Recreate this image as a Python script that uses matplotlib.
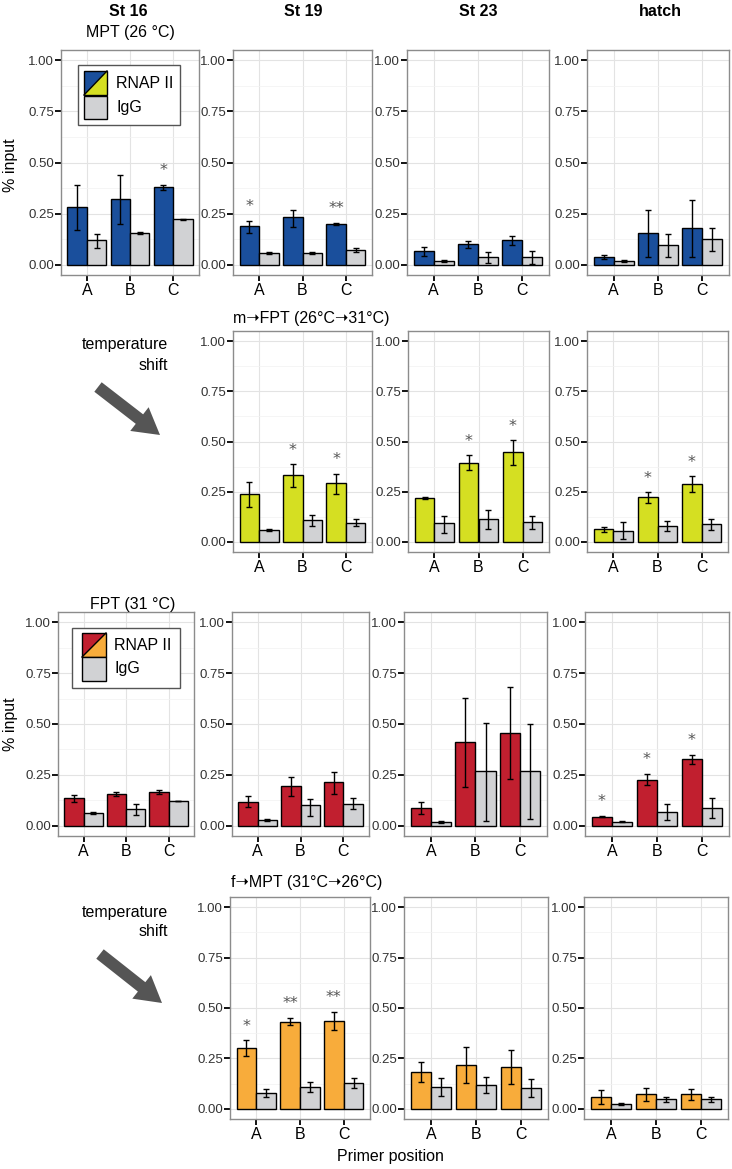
import matplotlib
matplotlib.use("Agg")
import matplotlib.pyplot as plt
from matplotlib.patches import Polygon, Rectangle, FancyArrow
import numpy as np

W, H = 732, 1169
plt.rcParams["font.family"] = ["Liberation Sans", "DejaVu Sans"]

positions = ["A", "B", "C"]
stages = ["St 16", "St 19", "St 23", "hatch"]

# MPT (26 °C), all four stages
mpt_rnap = [[0.28, 0.32, 0.38], [0.19, 0.232, 0.20], [0.065, 0.10, 0.12], [0.039, 0.157, 0.182]]
mpt_rnap_lo = [[0.171, 0.20, 0.365], [0.157, 0.185, 0.196], [0.044, 0.083, 0.098], [0.028, 0.039, 0.039]]
mpt_rnap_hi = [[0.388, 0.44, 0.39], [0.214, 0.27, 0.204], [0.088, 0.118, 0.14], [0.05, 0.268, 0.319]]
mpt_igg = [[0.119, 0.153, 0.222], [0.058, 0.058, 0.071], [0.018, 0.036, 0.036], [0.018, 0.095, 0.124]]
mpt_igg_lo = [[0.082, 0.148, 0.219], [0.052, 0.054, 0.062], [0.015, 0.01, 0.005], [0.015, 0.038, 0.065]]
mpt_igg_hi = [[0.15, 0.158, 0.225], [0.064, 0.062, 0.08], [0.021, 0.06, 0.068], [0.021, 0.149, 0.178]]
mpt_stars = [["", "", "*"], ["*", "", "**"], ["", "", ""], ["", "", ""]]

# m->FPT (26°C->31°C), St 19 / St 23 / hatch
mfpt_rnap = [[0.237, 0.331, 0.291], [0.221, 0.394, 0.446], [0.062, 0.223, 0.29]]
mfpt_rnap_lo = [[0.176, 0.274, 0.241], [0.216, 0.358, 0.381], [0.05, 0.196, 0.251]]
mfpt_rnap_hi = [[0.296, 0.386, 0.339], [0.226, 0.432, 0.507], [0.073, 0.248, 0.326]]
mfpt_igg = [[0.06, 0.109, 0.095], [0.092, 0.112, 0.10], [0.057, 0.078, 0.087]]
mfpt_igg_lo = [[0.056, 0.08, 0.077], [0.045, 0.064, 0.066], [0.013, 0.053, 0.06]]
mfpt_igg_hi = [[0.064, 0.134, 0.112], [0.127, 0.157, 0.129], [0.098, 0.105, 0.113]]
mfpt_stars = [["", "*", "*"], ["", "*", "*"], ["", "*", "*"]]

# FPT (31 °C), all four stages
fpt_rnap = [[0.137, 0.155, 0.166], [0.117, 0.194, 0.214], [0.088, 0.41, 0.454], [0.044, 0.227, 0.327]]
fpt_rnap_lo = [[0.119, 0.145, 0.155], [0.09, 0.147, 0.158], [0.057, 0.19, 0.228], [0.041, 0.199, 0.304]]
fpt_rnap_hi = [[0.152, 0.165, 0.176], [0.144, 0.241, 0.266], [0.119, 0.628, 0.68], [0.047, 0.255, 0.35]]
fpt_igg = [[0.065, 0.082, 0.121], [0.029, 0.10, 0.108], [0.02, 0.267, 0.267], [0.021, 0.069, 0.088]]
fpt_igg_lo = [[0.06, 0.052, 0.12], [0.026, 0.05, 0.082], [0.015, 0.026, 0.033], [0.017, 0.031, 0.039]]
fpt_igg_hi = [[0.07, 0.109, 0.122], [0.032, 0.132, 0.135], [0.025, 0.506, 0.50], [0.025, 0.105, 0.137]]
fpt_stars = [["", "", ""], ["", "", ""], ["", "", ""], ["*", "*", "*"]]

# f->MPT (31°C->26°C), St 19 / St 23 / hatch
fmpt_rnap = [[0.303, 0.433, 0.437], [0.185, 0.216, 0.207], [0.061, 0.074, 0.072]]
fmpt_rnap_lo = [[0.264, 0.417, 0.392], [0.134, 0.126, 0.123], [0.026, 0.041, 0.046]]
fmpt_rnap_hi = [[0.339, 0.45, 0.481], [0.234, 0.305, 0.29], [0.095, 0.105, 0.10]]
fmpt_igg = [[0.081, 0.11, 0.128], [0.11, 0.118, 0.103], [0.023, 0.048, 0.049]]
fmpt_igg_lo = [[0.061, 0.082, 0.104], [0.064, 0.077, 0.057], [0.019, 0.036, 0.036]]
fmpt_igg_hi = [[0.099, 0.135, 0.152], [0.154, 0.159, 0.148], [0.027, 0.057, 0.059]]
fmpt_stars = [["*", "**", "**"], ["", "", ""], ["", "", ""]]

BLUE = "#1a4f9c"
YELLOW = "#d5df22"
RED = "#c11f2f"
ORANGE = "#f8ac3b"
GRAY = "#d1d2d4"


def draw_panel(fig, box, rnap, rlo, rhi, igg, ilo, ihi, stars, color):
    left, top, right, bottom = box
    ax = fig.add_axes([left / W, 1 - bottom / H, (right - left) / W, (bottom - top) / H])
    x = np.arange(1, len(positions) + 1)
    w = 0.45
    rnap, rlo, rhi = np.array(rnap), np.array(rlo), np.array(rhi)
    igg, ilo, ihi = np.array(igg), np.array(ilo), np.array(ihi)
    ax.bar(x - w / 2, rnap, w, color=color, edgecolor="black", linewidth=1, zorder=3)
    ax.bar(x + w / 2, igg, w, color=GRAY, edgecolor="black", linewidth=1, zorder=3)
    ax.errorbar(x - w / 2, rnap, yerr=[rnap - rlo, rhi - rnap], fmt="none",
                ecolor="black", elinewidth=1, capsize=2.2, capthick=1, zorder=4)
    ax.errorbar(x + w / 2, igg, yerr=[igg - ilo, ihi - igg], fmt="none",
                ecolor="black", elinewidth=1, capsize=2.2, capthick=1, zorder=4)
    for xi, hi, s in zip(x - w / 2, rhi, stars):
        if s:
            ax.text(xi, hi + 0.07, s, ha="center", va="center", fontsize=11.5,
                    color="#555555", family="DejaVu Sans")
    ax.set_xlim(0.4, 3.6)
    ax.set_ylim(-0.05, 1.05)
    ax.set_xticks(x)
    ax.set_xticklabels(positions)
    ax.set_yticks([0, 0.25, 0.5, 0.75, 1.0])
    ax.set_yticklabels(["0.00", "0.25", "0.50", "0.75", "1.00"])
    ax.set_yticks([0.125, 0.375, 0.625, 0.875], minor=True)
    ax.grid(True, which="major", color="#e3e3e3", linewidth=0.8, zorder=0)
    ax.grid(True, which="minor", axis="y", color="#f2f2f2", linewidth=0.5, zorder=0)
    ax.set_axisbelow(True)
    for sp in ax.spines.values():
        sp.set_color("#8c8c8c")
        sp.set_linewidth(1)
    ax.tick_params(axis="y", which="major", length=4, width=1.3, color="black",
                   labelsize=9.5, labelcolor="#333333", pad=1)
    ax.tick_params(axis="y", which="minor", length=0)
    ax.tick_params(axis="x", length=4, width=1.3, color="black",
                   labelsize=11.5, labelcolor="black", pad=2)
    return ax


fig = plt.figure(figsize=(W / 100, H / 100), dpi=100)

row1 = [(61, 50, 199, 275), (233, 50, 372, 275), (407, 50, 549, 275), (587, 50, 729, 275)]
row2 = [None, (233, 331, 372, 552), (408, 331, 549, 552), (587, 331, 728, 552)]
row3 = [(58, 612, 194, 836), (232, 612, 369, 836), (404, 612, 547, 836), (585, 612, 729, 836)]
row4 = [None, (230, 897, 370, 1119), (404, 897, 548, 1119), (584, 897, 728, 1119)]

for i, box in enumerate(row1):
    draw_panel(fig, box, mpt_rnap[i], mpt_rnap_lo[i], mpt_rnap_hi[i],
               mpt_igg[i], mpt_igg_lo[i], mpt_igg_hi[i], mpt_stars[i], BLUE)
for i, box in enumerate(row2[1:]):
    draw_panel(fig, box, mfpt_rnap[i], mfpt_rnap_lo[i], mfpt_rnap_hi[i],
               mfpt_igg[i], mfpt_igg_lo[i], mfpt_igg_hi[i], mfpt_stars[i], YELLOW)
for i, box in enumerate(row3):
    draw_panel(fig, box, fpt_rnap[i], fpt_rnap_lo[i], fpt_rnap_hi[i],
               fpt_igg[i], fpt_igg_lo[i], fpt_igg_hi[i], fpt_stars[i], RED)
for i, box in enumerate(row4[1:]):
    draw_panel(fig, box, fmpt_rnap[i], fmpt_rnap_lo[i], fmpt_rnap_hi[i],
               fmpt_igg[i], fmpt_igg_lo[i], fmpt_igg_hi[i], fmpt_stars[i], ORANGE)

# overlay in pixel coordinates for titles, legends and arrows
ov = fig.add_axes([0, 0, 1, 1])
ov.set_xlim(0, W)
ov.set_ylim(H, 0)
ov.axis("off")
ov.patch.set_visible(False)

col_x = [128, 303, 478, 660]
for cx, st in zip(col_x, stages):
    ov.text(cx, 11, st, ha="center", va="center", fontsize=11.5, fontweight="bold")

ov.text(130, 33, "MPT (26 °C)", ha="center", va="center", fontsize=11.5)
ov.text(311, 318, "m\u279dFPT (26°C\u279d31°C)", ha="center", va="center", fontsize=11.5)
ov.text(133, 604, "FPT (31 °C)", ha="center", va="center", fontsize=11.5)
ov.text(307, 883, "f\u279dMPT (31°C\u279d26°C)", ha="center", va="center", fontsize=11.5)

for yc in (165, 724):
    ov.text(10, yc, "% input", ha="center", va="center", rotation=90, fontsize=11.5)

ov.text(390, 1157, "Primer position", ha="center", va="center", fontsize=11.5)

for y1 in (345, 912):
    ov.text(168, y1, "temperature", ha="right", va="center", fontsize=11.5)
    ov.text(168, y1 + 20, "shift", ha="right", va="center", fontsize=11.5)

for (x0, y0, x1, y1) in [(98, 387, 160, 435), (100, 954, 162, 1003)]:
    ov.add_patch(FancyArrow(x0, y0, x1 - x0, y1 - y0, width=12, head_width=30,
                            head_length=26, length_includes_head=True,
                            color="#555555", linewidth=0))


def draw_legend(box, key_l, key_r, k1, k2, tx, c_main, c_alt):
    bl, bt, br, bb = box
    ov.add_patch(Rectangle((bl, bt), br - bl, bb - bt, facecolor="white",
                           edgecolor="#555555", linewidth=1, zorder=5))
    t1, b1 = k1
    ov.add_patch(Polygon([(key_l, t1), (key_r, t1), (key_l, b1)], closed=True,
                         facecolor=c_main, edgecolor="none", zorder=6))
    ov.add_patch(Polygon([(key_r, t1), (key_r, b1), (key_l, b1)], closed=True,
                         facecolor=c_alt, edgecolor="none", zorder=6))
    ov.plot([key_l, key_r], [b1, t1], color="black", linewidth=1, zorder=7)
    ov.add_patch(Rectangle((key_l, t1), key_r - key_l, b1 - t1, facecolor="none",
                           edgecolor="black", linewidth=1, zorder=7))
    t2, b2 = k2
    ov.add_patch(Rectangle((key_l, t2), key_r - key_l, b2 - t2, facecolor=GRAY,
                           edgecolor="black", linewidth=1, zorder=7))
    ov.text(tx, (t1 + b1) / 2, "RNAP II", ha="left", va="center", fontsize=11.5, zorder=8)
    ov.text(tx, (t2 + b2) / 2, "IgG", ha="left", va="center", fontsize=11.5, zorder=8)


draw_legend((78, 65, 180, 125), 84, 107, (71, 95), (96, 119), 116, BLUE, YELLOW)
draw_legend((72, 628, 180, 688), 82, 106, (633, 657), (657, 681), 114, RED, ORANGE)

fig.savefig("out.png", dpi=100)
